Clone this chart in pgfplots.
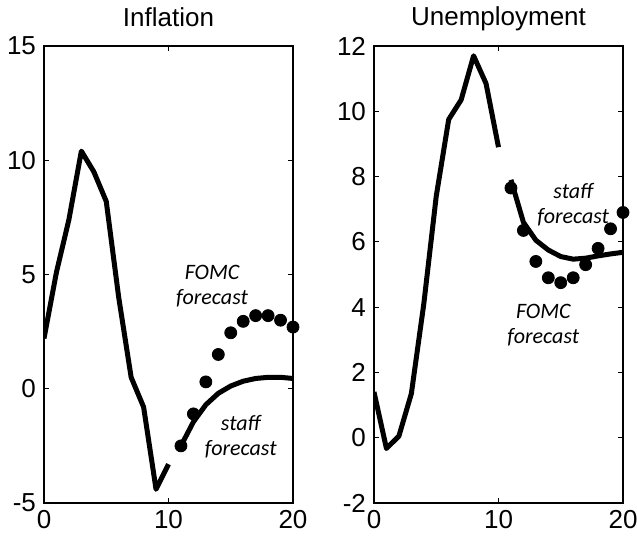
\documentclass[border=0pt]{standalone}
\usepackage{pgfplots}
\pgfplotsset{compat=1.18}
\usepackage{fontspec}
\setmainfont{Liberation Sans}
\newfontfamily\annfont{Carlito}

\pgfplotsset{
  panel/.style={
    scale only axis,
    width=124.5pt, height=228.5pt,
    xmin=0, xmax=20, xtick={0,10,20},
    tick align=inside, major tick length=2.5pt,
    axis line style={line width=0.6pt},
    tick style={line width=0.5pt, black},
    ticklabel style={font=\fontsize{13}{15}\selectfont},
    /pgf/number format/assume math mode=true,
    title style={font=\fontsize{13}{15}\selectfont, at={(0.5,1)}, anchor=base, yshift=4pt},
    yticklabel style={xshift=-0.5pt},
  },
  hist/.style={black, line width=2.5pt, no markers, line join=round},
  dots/.style={only marks, mark=*, mark size=3pt, black},
}
\tikzset{ann/.style={font=\annfont\itshape\fontsize{11}{12.5}\selectfont, align=center}}

\begin{document}
\begin{tikzpicture}
\useasboundingbox (-22pt,-16.5pt) rectangle (296.5pt,251.5pt);

\begin{axis}[panel, title={Inflation}, ymin=-5, ymax=15, ytick={-5,0,5,10,15}]
\addplot[hist] coordinates {
  (0,2.2) (1,5.1) (2,7.4) (3,10.4) (4,9.5) (5,8.2) (6,4.0) (7,0.5) (8,-0.8) (9,-4.4) (10,-3.3)
};
\addplot[hist] coordinates {
  (11,-2.5) (12,-1.45) (13,-0.7) (14,-0.2) (15,0.12) (16,0.33) (17,0.45) (18,0.5) (19,0.5) (20,0.45)
};
\addplot[dots] coordinates {
  (11,-2.5) (12,-1.1) (13,0.3) (14,1.5) (15,2.45) (16,2.95) (17,3.2) (18,3.2) (19,3.0) (20,2.7)
};
\node[ann] at (axis cs:13.5,4.5) {FOMC\\forecast};
\node[ann] at (axis cs:15.8,-2.1) {staff\\forecast};
\end{axis}

\begin{axis}[panel, at={(165pt,0)}, title={Unemployment}, ymin=-2, ymax=12, ytick={-2,0,2,4,6,8,10,12}]
\addplot[hist] coordinates {
  (0,1.4) (1,-0.33) (2,0.05) (3,1.35) (4,4.1) (5,7.4) (6,9.75) (7,10.35) (8,11.7) (9,10.85) (10,8.9)
};
\addplot[hist] coordinates {
  (11,7.9) (12,6.6) (13,6.05) (14,5.75) (15,5.55) (16,5.47) (17,5.5) (18,5.57) (19,5.63) (20,5.68)
};
\addplot[dots] coordinates {
  (11,7.65) (12,6.35) (13,5.4) (14,4.9) (15,4.75) (16,4.9) (17,5.3) (18,5.8) (19,6.4) (20,6.9)
};
\node[ann] at (axis cs:16.0,7.15) {staff\\forecast};
\node[ann] at (axis cs:13.6,3.45) {FOMC\\forecast};
\end{axis}
\end{tikzpicture}
\end{document}
